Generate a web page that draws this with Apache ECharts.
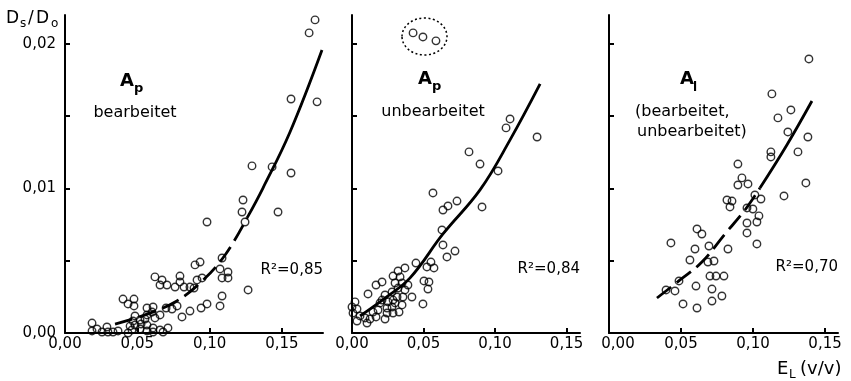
<!DOCTYPE html>
<html>
<head>
<meta charset="utf-8">
<script src="https://cdn.jsdelivr.net/npm/echarts@6/dist/echarts.min.js"></script>
<style>
html,body{margin:0;padding:0;background:#fff;}
#chart{width:851px;height:381px;}
</style>
</head>
<body>
<div id="chart"></div>
<script>
// ---- data: [E_L (v/v), Ds/Do] ----
const yTicks = [0.005, 0.01, 0.015, 0.02];
const yTickLabels = [0, 0.01, 0.02];
const xTickLabels = [0, 0.05, 0.1, 0.15];

const p1Points = [
[0.1729,0.02166],[0.1688,0.02076],[0.1563,0.01619],[0.1743,0.01599],[0.1293,0.01156],[0.1432,0.01149],[0.1563,0.01107],[0.1231,0.0092],[0.1224,0.00837],[0.1245,0.00768],[0.1473,0.00837],[0.0982,0.00768],
[0.0899,0.00471],[0.0934,0.00491],[0.1086,0.00519],[0.1072,0.00443],[0.1127,0.00422],[0.1086,0.00381],[0.1127,0.00381],[0.1266,0.00298],[0.1086,0.00256],[0.1072,0.00187],[0.0982,0.00201],[0.0941,0.00173],[0.0864,0.00152],[0.0809,0.00111],[0.0699,0.00173],[0.074,0.00166],[0.0775,0.00187],
[0.0622,0.00388],[0.0671,0.00367],[0.0657,0.00332],[0.0705,0.00332],[0.0761,0.00318],[0.0795,0.00394],[0.0795,0.00353],[0.0823,0.00318],[0.0864,0.00318],[0.0892,0.00311],[0.0913,0.00367],[0.0948,0.00381],
[0.0401,0.00235],[0.0477,0.00235],[0.0436,0.00201],[0.0477,0.00187],[0.0567,0.00173],[0.0609,0.0018],[0.0602,0.00145],[0.0567,0.00125],[0.0484,0.00118],[0.047,0.00083],[0.0519,0.0009],[0.0553,0.00097],[0.0622,0.00104],[0.0657,0.00125],
[0.0187,0.00069],[0.0187,0.00014],[0.0221,0.00028],[0.0256,0.00007],[0.029,0.00042],[0.0297,0.00007],[0.0332,0.00007],[0.0367,0.00014],[0.0436,0.0],[0.0463,0.00021],[0.045,0.00048],[0.0484,0.00055],[0.0519,0.00028],[0.0526,0.00062],[0.0567,0.00055],[0.0567,0.00014],[0.0609,0.00035],[0.0657,0.00021],[0.0609,0.00007],[0.0712,0.00035],[0.0678,0.00007]
];
const p1CurveDashed = [[0.0346,0.00062],[0.0553,0.00125],[0.0761,0.00215],[0.0934,0.00346],[0.1107,0.0054],[0.1259,0.00796]];
const p1CurveSolid = [[0.1259,0.00796],[0.1369,0.01003],[0.1556,0.01391],[0.1777,0.01958]];

const p2Points = [
[0.1105,0.01481],[0.1077,0.01419],[0.1294,0.01356],[0.0818,0.01253],[0.0895,0.01169],[0.1021,0.01121],[0.0566,0.00969],[0.0734,0.00913],[0.0671,0.00879],[0.0636,0.00851],[0.0909,0.00872],
[0.0629,0.00713],[0.0636,0.00609],[0.072,0.00567],[0.0664,0.00526],[0.0447,0.00484],[0.0524,0.00457],[0.0552,0.00491],[0.0573,0.0045],[0.0503,0.0036],[0.0538,0.00353],[0.0531,0.00304],[0.0496,0.00201],
[0.0419,0.00249],[0.0391,0.00332],[0.037,0.0045],[0.0322,0.00429],[0.0336,0.00388],[0.0287,0.00394],[0.0301,0.00346],[0.035,0.00346],[0.037,0.00298],[0.0322,0.00311],[0.028,0.00284],[0.0356,0.00249],[0.0315,0.00249],
[0.0287,0.00228],[0.035,0.00194],[0.0301,0.00208],[0.028,0.0018],[0.0329,0.00145],[0.0287,0.00138],[0.0252,0.00215],[0.0245,0.00173],[0.021,0.00228],[0.0196,0.00208],[0.0245,0.00138],[0.021,0.00353],[0.0168,0.00332],
[0.0112,0.0027],[0.0231,0.00263],[0.0182,0.00159],[0.0147,0.00145],[0.0231,0.00097],[0.0168,0.00111],[0.0126,0.00097],[0.0091,0.00104],[0.0056,0.00118],[0.0035,0.00083],[0.0105,0.00069],[0.0021,0.00215],[0.0,0.0018],[0.0035,0.00166],[0.0007,0.00138]
];
const p2Circled = [[0.0427,0.02076],[0.0496,0.02048],[0.0587,0.02021]];
const p2Curve = [[0.0056,0.00118],[0.0231,0.00242],[0.0406,0.00381],[0.0636,0.00685],[0.0895,0.0099],[0.1105,0.01336],[0.1315,0.01723]];

const p3Points = [
[0.1388,0.01896],[0.1131,0.01654],[0.1263,0.01543],[0.1173,0.01488],[0.1242,0.01391],[0.1381,0.01356],[0.1124,0.01253],[0.1124,0.01218],[0.1312,0.01253],[0.0895,0.01169],[0.0923,0.01073],[0.0895,0.01024],
[0.0965,0.01031],[0.1367,0.01038],[0.1013,0.00955],[0.1055,0.00927],[0.1215,0.00948],[0.0819,0.0092],[0.0854,0.00913],[0.084,0.00872],[0.0958,0.00865],[0.0999,0.00858],[0.1041,0.0081],[0.1027,0.00768],
[0.0958,0.00761],[0.0958,0.00692],[0.1027,0.00616],[0.0826,0.00581],[0.0694,0.00602],[0.0611,0.0072],[0.0645,0.00685],[0.0597,0.00581],[0.043,0.00623],[0.0562,0.00505],[0.0687,0.00491],[0.0729,0.00498],
[0.0701,0.00394],[0.0743,0.00394],[0.0798,0.00394],[0.0486,0.0036],[0.0396,0.00298],[0.0458,0.00291],[0.0604,0.00325],[0.0715,0.00304],[0.0784,0.00256],[0.0715,0.00221],[0.0514,0.00201],[0.0611,0.00173]
];
const p3CurveDashed = [[0.0333,0.00242],[0.0493,0.00367],[0.0645,0.00491],[0.0805,0.00685],[0.0944,0.00851],[0.1048,0.01003]];
const p3CurveSolid = [[0.1048,0.01003],[0.1235,0.01301],[0.1409,0.01605]];

// ---- layout ----
const FONT = 'DejaVu Sans';
const fmt = v => v.toFixed(2).replace('.', ',');
const panels = [
  {left: 65, width: 258, xmax: 0.1784},
  {left: 352, width: 228, xmax: 0.1594},
  {left: 609, width: 229, xmax: 0.159}
];
const axisLineStyle = {color: '#000', width: 2};

const chart = echarts.init(document.getElementById('chart'), null, {renderer: 'canvas'});

const grid = panels.map(p => ({left: p.left, width: p.width, top: 15, height: 318, containLabel: false}));
const xAxis = panels.map((p, i) => ({
  type: 'value', gridIndex: i, min: 0, max: p.xmax, interval: 0.05,
  axisLine: {show: true, onZero: false, lineStyle: axisLineStyle},
  axisTick: {show: true, inside: true, length: 5, lineStyle: axisLineStyle, customValues: xTickLabels.slice(1)},
  axisLabel: {
    customValues: xTickLabels, color: '#000', fontFamily: FONT, fontSize: 15, margin: 4,
    formatter: v => (i === 2 && v === 0) ? '{o|' + fmt(v) + '}' : fmt(v),
    rich: {o: {fontFamily: FONT, fontSize: 15, color: '#000', padding: [0, 0, 0, 18]}}
  },
  splitLine: {show: false}
}));
const yAxis = panels.map((p, i) => ({
  type: 'value', gridIndex: i, min: 0, max: 0.022, interval: 0.005,
  axisLine: {show: true, onZero: false, lineStyle: axisLineStyle},
  axisTick: {show: true, inside: true, length: 5, lineStyle: axisLineStyle, customValues: yTicks},
  axisLabel: {show: i === 0, customValues: yTickLabels, formatter: fmt, color: '#000', fontFamily: FONT, fontSize: 15, margin: 9},
  splitLine: {show: false}
}));

const scatterStyle = {color: 'rgba(0,0,0,0)', borderColor: '#000', borderWidth: 1.4};
const scatter = (data, i) => ({
  type: 'scatter', xAxisIndex: i, yAxisIndex: i, data, symbol: 'circle', symbolSize: 7.5,
  itemStyle: scatterStyle, silent: true, z: 3
});
const curve = (data, i, dashed) => ({
  type: 'line', xAxisIndex: i, yAxisIndex: i, data, smooth: 0.4, showSymbol: false, silent: true, z: 2,
  lineStyle: {color: '#000', width: 2.8, type: dashed ? [18, 7] : 'solid', cap: 'butt'}
});

const txt = (text, x, y, size, opts) => Object.assign({
  type: 'text', x, y, silent: true,
  style: Object.assign({
    text, fill: '#000', font: (opts && opts.bold ? 'bold ' : '') + size + 'px "' + FONT + '"',
    align: 'left', textAlign: 'left', verticalAlign: 'middle', textVerticalAlign: 'middle'
  }, opts && opts.style)
}, {});
const right = {style: {align: 'right', textAlign: 'right'}};
const center = {style: {align: 'center', textAlign: 'center'}};

const graphic = [
  // y-axis title Ds/Do
  txt('D', 6, 19, 17), txt('s', 20, 24, 12), txt('/', 28, 19, 17), txt('D', 36, 19, 17), txt('o', 51, 24, 12),
  // panel 1
  txt('A', 120, 81, 18, {bold: true}), txt('p', 134, 89, 13, {bold: true}),
  txt('bearbeitet', 135, 113, 16, center),
  txt('R\u00B2=0,85', 323, 270, 15, right),
  // panel 2
  txt('A', 418, 79, 18, {bold: true}), txt('p', 432, 87, 13, {bold: true}),
  txt('unbearbeitet', 433, 112, 16, center),
  txt('R\u00B2=0,84', 580, 269, 15, right),
  {type: 'ellipse', silent: true, shape: {cx: 424.5, cy: 36.5, rx: 22.5, ry: 18.5},
   style: {fill: 'none', stroke: '#000', lineWidth: 1.5, lineDash: [2, 2.5]}},
  // panel 3
  txt('A', 680, 79, 18, {bold: true}), txt('l', 693, 88, 12, {bold: true}),
  txt('(bearbeitet,', 635, 112, 16), txt('unbearbeitet)', 637, 132, 16),
  txt('R\u00B2=0,70', 838, 267, 15, right),
  // x-axis title
  txt('E', 777, 369, 18), txt('L', 789, 375, 12), txt('(v/v)', 800, 369, 18)
];

chart.setOption({
  animation: false,
  backgroundColor: '#fff',
  grid, xAxis, yAxis, graphic,
  series: [
    curve(p1CurveDashed, 0, true), curve(p1CurveSolid, 0, false), scatter(p1Points, 0),
    curve(p2Curve, 1, false), scatter(p2Points, 1), scatter(p2Circled, 1),
    curve(p3CurveDashed, 2, true), curve(p3CurveSolid, 2, false), scatter(p3Points, 2)
  ]
});
</script>
</body>
</html>
